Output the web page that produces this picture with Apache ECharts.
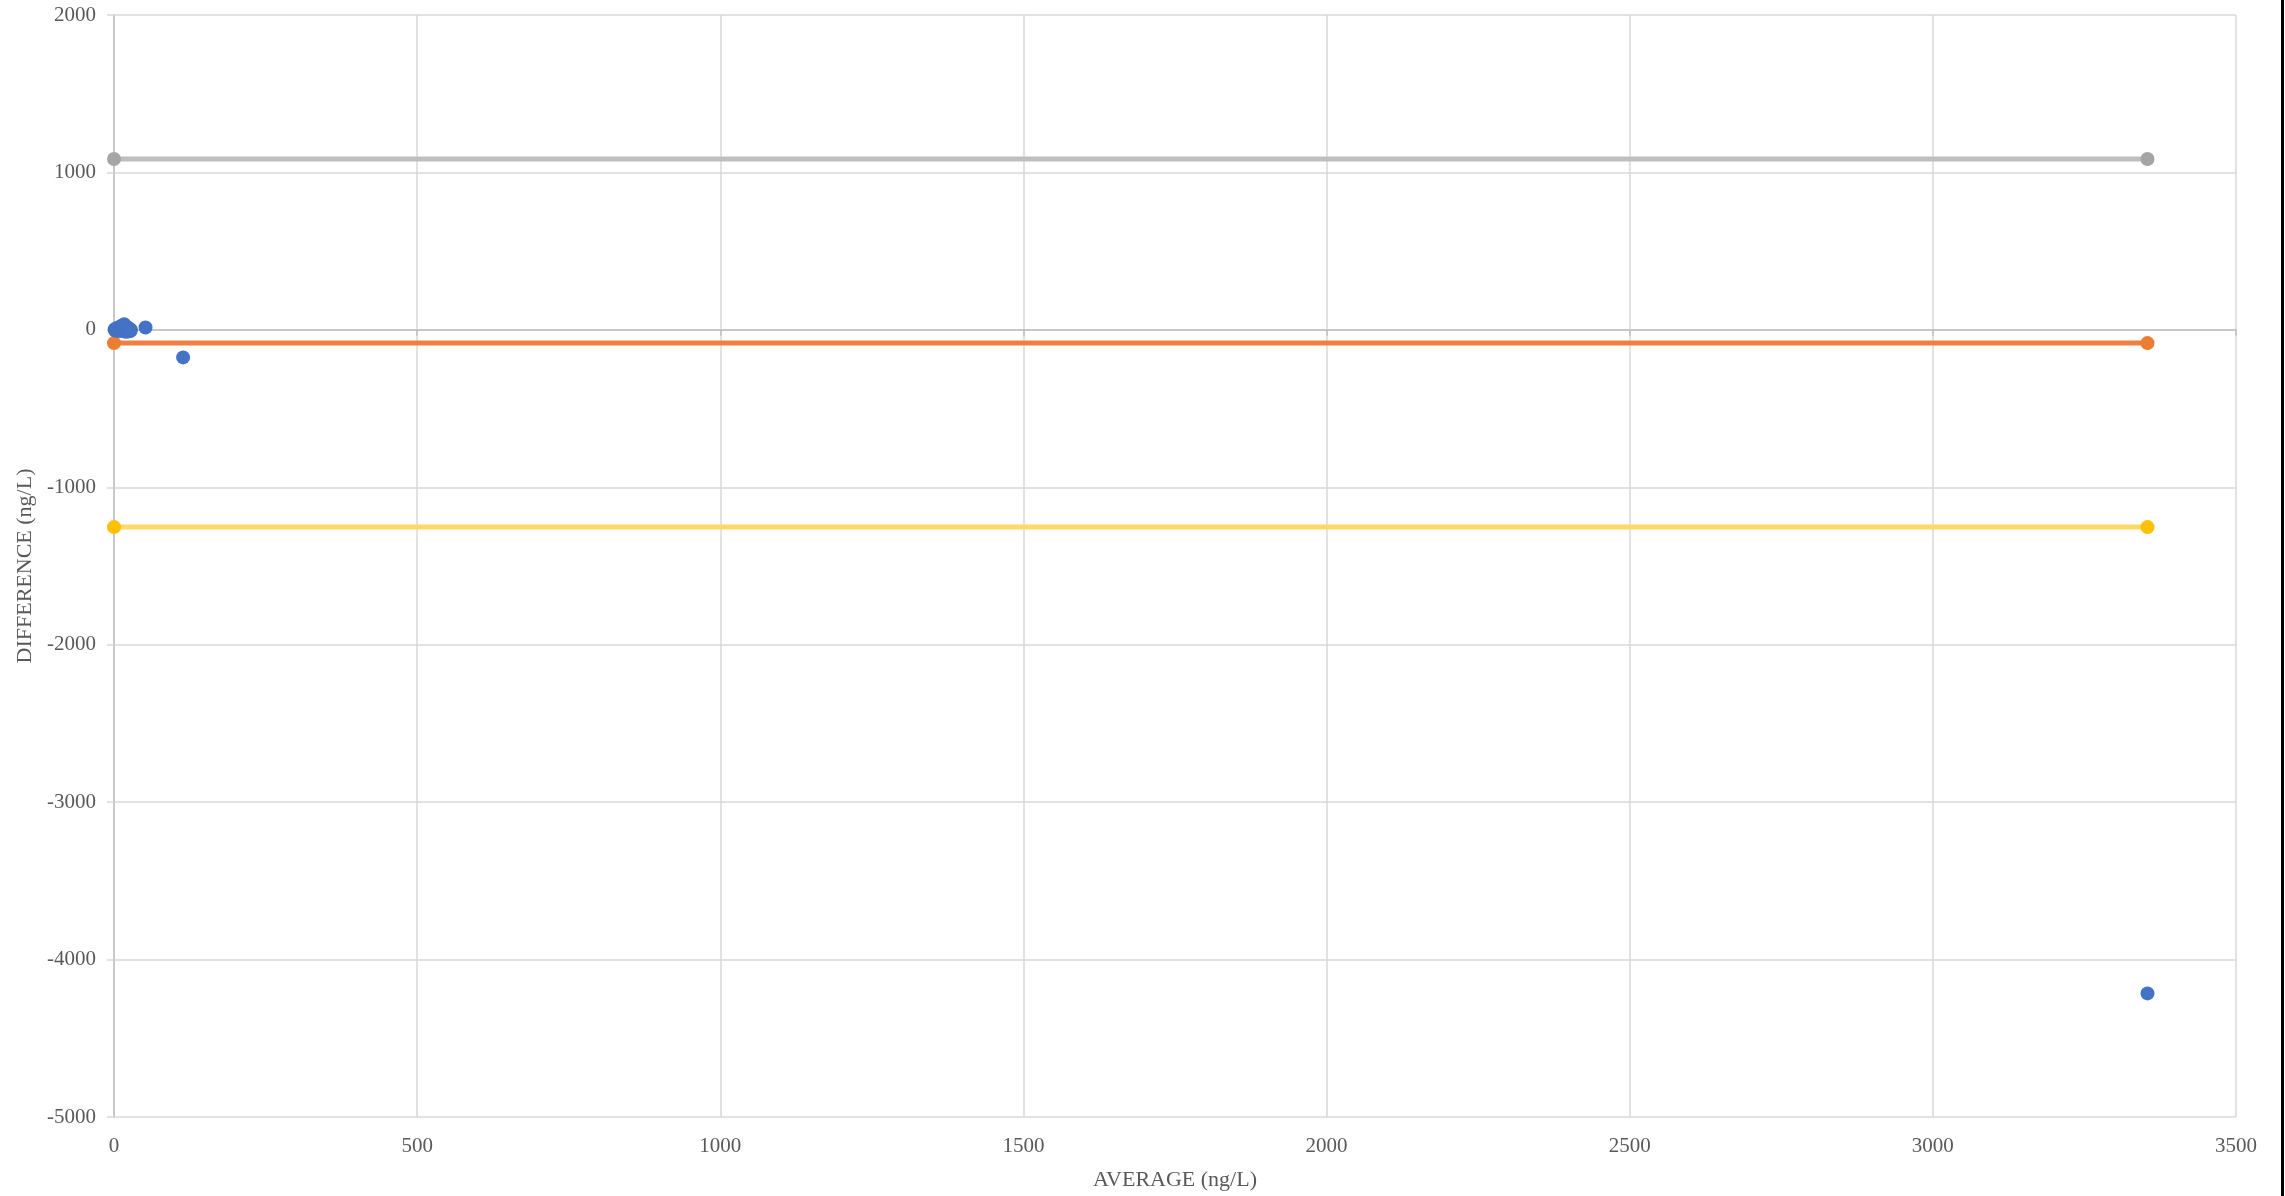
<!DOCTYPE html>
<html>
<head>
<meta charset="utf-8">
<style>
  html, body { margin: 0; padding: 0; background: #fff; }
  #chart { width: 2285px; height: 1196px; }
</style>
<script src="https://cdn.jsdelivr.net/npm/echarts@6/dist/echarts.min.js"></script>
</head>
<body>
<div id="chart"></div>
<script>
// Bland–Altman style plot: difference vs average of paired measurements (ng/L)
const avgValues  = [1, 2, 3, 4, 5, 6, 7, 8, 9, 10, 11, 12, 13, 14, 15, 16, 17, 18, 19, 20,
                    21, 22, 23, 24, 25, 26, 27, 28, 52, 114, 3354];
const diffValues = [2, -4, 6, 10, -2, 12, 4, -8, 15, 20, 8, -6, 25, 30, 18, 5, 35, 10, -12, 22,
                    15, 6, -10, 12, -5, 3, -8, 0, 15, -175, -4215];

const lineX      = [0, 3354];
const meanDiff   = -84;     // mean difference
const upperLimit = 1085;    // mean + 1.96 SD
const lowerLimit = -1253;   // mean - 1.96 SD

const xTicks = { min: 0, max: 3500, interval: 500 };
const yTicks = { min: -5000, max: 2000, interval: 1000 };

const font = '"Liberation Serif", "Times New Roman", serif';
const textColor = '#595959';
const plain = (v) => String(v);

const pairs = (xs, ys) => xs.map((x, i) => [x, ys[i]]);
const flat = (v) => lineX.map(x => [x, v]);

const chart = echarts.init(document.getElementById('chart'));
chart.setOption({
  animation: false,
  backgroundColor: '#ffffff',
  grid: { left: 114, right: 49, top: 15, bottom: 74, containLabel: false },
  xAxis: [
    {
      type: 'value', min: xTicks.min, max: xTicks.max, interval: xTicks.interval,
      name: 'AVERAGE (ng/L)', nameLocation: 'middle', nameGap: 52,
      nameTextStyle: { fontFamily: font, fontSize: 22, color: textColor },
      axisLine: { show: false, onZero: false },
      axisTick: { show: false },
      axisLabel: { fontFamily: font, fontSize: 21, color: textColor, margin: 19, formatter: plain },
      splitLine: { show: true, lineStyle: { color: '#d9d9d9', width: 1.5 } }
    },
    {
      // zero line crossing the plot, with short tick marks below it
      type: 'value', min: xTicks.min, max: xTicks.max, interval: xTicks.interval,
      axisLine: { show: true, onZero: true, lineStyle: { color: '#bfbfbf', width: 1.5 } },
      axisTick: { show: true, inside: true, length: 6, lineStyle: { color: '#bfbfbf', width: 1.5 } },
      axisLabel: { show: false },
      splitLine: { show: false }
    }
  ],
  yAxis: {
    type: 'value', min: yTicks.min, max: yTicks.max, interval: yTicks.interval,
    name: 'DIFFERENCE (ng/L)', nameLocation: 'middle', nameGap: 78,
    nameTextStyle: { fontFamily: font, fontSize: 22, color: textColor },
    axisLine: { show: true, onZero: false, lineStyle: { color: '#bfbfbf', width: 1.5 } },
    axisTick: { show: true, length: 7, lineStyle: { color: '#d9d9d9', width: 1.5 } },
    axisLabel: { fontFamily: font, fontSize: 21, color: textColor, margin: 18, formatter: plain },
    splitLine: { show: true, lineStyle: { color: '#d9d9d9', width: 1.5 } }
  },
  series: [
    {
      name: 'Upper limit', type: 'line', data: flat(upperLimit),
      symbol: 'circle', symbolSize: 14,
      itemStyle: { color: '#a5a5a5' },
      lineStyle: { color: '#bfbfbf', width: 5 }, z: 2
    },
    {
      name: 'Mean', type: 'line', data: flat(meanDiff),
      symbol: 'circle', symbolSize: 14,
      itemStyle: { color: '#ed7d31' },
      lineStyle: { color: '#ef8040', width: 5 }, z: 2
    },
    {
      name: 'Lower limit', type: 'line', data: flat(lowerLimit),
      symbol: 'circle', symbolSize: 14,
      itemStyle: { color: '#ffc000' },
      lineStyle: { color: '#ffd966', width: 5 }, z: 2
    },
    {
      name: 'Difference', type: 'scatter', data: pairs(avgValues, diffValues),
      symbol: 'circle', symbolSize: 14,
      itemStyle: { color: '#4472c4', opacity: 1 }, z: 3
    }
  ],
  graphic: [
    { type: 'rect', right: 1, top: 0, shape: { width: 3, height: 1196 }, style: { fill: '#000' } }
  ]
});
</script>
</body>
</html>
